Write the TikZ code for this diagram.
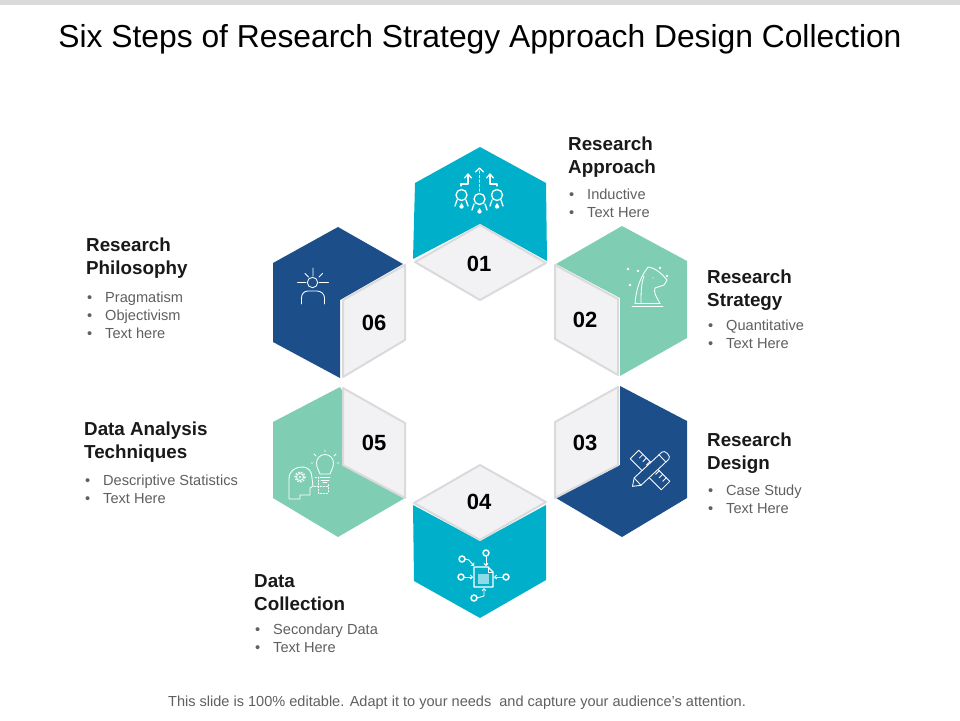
\documentclass[tikz,border=0pt]{standalone}
\usepackage{fontspec}
\setmainfont{Liberation Sans}
\usetikzlibrary{positioning,arrows.meta}
\definecolor{tealc}{HTML}{00B0CA}
\definecolor{navyc}{HTML}{1C4E8A}
\definecolor{mintc}{HTML}{7FCEB4}
\definecolor{cardc}{HTML}{F2F2F4}
\definecolor{edgec}{HTML}{DADADC}
\definecolor{greyc}{HTML}{5F5F5F}
\tikzstyle{every picture}+=[x=1pt,y=-1pt]
\tikzstyle{every picture}+=[line join=round]
\tikzstyle{card}=[fill=cardc,draw=edgec,line width=2pt]
\tikzstyle{num}=[inner sep=0pt,font=\fontsize{22}{22}\selectfont\bfseries]
\tikzstyle{head}=[inner sep=0pt,anchor=north west,align=left,font=\fontsize{18.8}{23}\selectfont\bfseries,text=black!90]
\tikzstyle{list}=[inner sep=0pt,anchor=north west,align=left,font=\fontsize{14.6}{18}\selectfont,text=greyc]
\tikzstyle{icon}=[draw=white,line width=1.3pt,line cap=round]
\tikzstyle{thin icon}=[icon,line width=.85pt]
\tikzstyle{barb}=[icon,line width=.9pt,-{Straight Barb[length=2pt,width=4pt]}]
\newcommand{\bitem}[1]{\hspace{1pt}\makebox[18pt][l]{\textbullet}#1}
\begin{document}
\begin{tikzpicture}
\useasboundingbox (0,0) rectangle (960,720);
\fill[edgec] (0,0) rectangle (960,5);
\node[inner sep=0pt,font=\fontsize{31.8}{32}\selectfont] (title) at (480,39) {Six Steps of Research Strategy Approach Design Collection};
\node[inner sep=0pt,font=\fontsize{14.55}{16}\selectfont,text=greyc] (foot) at (457,703) {This slide is 100\% editable. Adapt it to your needs\ \ and capture your audience's attention.};

% hexagons
\fill[tealc] (480,147) -- (546,183) -- (547,261) -- (480,224) -- (413,259) -- (415,183) -- cycle;
\fill[mintc] (556,264) -- (622,226) -- (687,261) -- (687,338) -- (620,376) -- (620,298) -- cycle;
\fill[navyc] (620,386) -- (687,421) -- (687,498) -- (622,537) -- (556,498) -- (620,465) -- cycle;
\fill[tealc] (413,505) -- (480,541) -- (546,505) -- (546,580) -- (480,618) -- (414,581) -- cycle;
\fill[mintc] (340,387) -- (405,498) -- (338,537) -- (273,498) -- (273,422) -- cycle;
\fill[navyc] (338,227) -- (403,264) -- (340,300) -- (340,378) -- (273,342) -- (273,263) -- cycle;

% cards
\filldraw[card] (480,225) -- (546,263) -- (480,300) -- (415,262) -- cycle;
\filldraw[card] (555,265) -- (618,299) -- (618,375) -- (555,339) -- cycle;
\filldraw[card] (618,387) -- (555,422) -- (555,498) -- (618,465) -- cycle;
\filldraw[card] (480,465) -- (546,502) -- (480,540) -- (414,503) -- cycle;
\filldraw[card] (343,388) -- (405,423) -- (405,498) -- (343,465) -- cycle;
\filldraw[card] (343,300) -- (405,265) -- (405,340) -- (343,377) -- cycle;

\node[num] (n1) at (479,264) {01};
\node[num] (n2) at (585,320) {02};
\node[num] (n3) at (585,443) {03};
\node[num] (n4) at (479,502) {04};
\node[num] (n5) at (374,443) {05};
\node[num] (n6) at (374,323) {06};

% labels
\node[head] (h1) at (568,137) {Research\\Approach};
\node[list] (l1) [below=11pt of h1.south west,anchor=north west] {\bitem{Inductive}\\\bitem{Text Here}};
\node[head] (h2) at (707,270) {Research\\Strategy};
\node[list] (l2) [below=9pt of h2.south west,anchor=north west] {\bitem{Quantitative}\\\bitem{Text Here}};
\node[head] (h3) at (707,433) {Research\\Design};
\node[list] (l3) [below=11pt of h3.south west,anchor=north west] {\bitem{Case Study}\\\bitem{Text Here}};
\node[head] (h4) at (254,574) {Data\\Collection};
\node[list] (l4) [below=13pt of h4.south west,anchor=north west] {\bitem{Secondary Data}\\\bitem{Text Here}};
\node[head] (h5) at (84,422) {Data Analysis\\Techniques};
\node[list] (l5) [below=12pt of h5.south west,anchor=north west] {\bitem{Descriptive Statistics}\\\bitem{Text Here}};
\node[head] (h6) at (86,238) {Research\\Philosophy};
\node[list] (l6) [below=13pt of h6.south west,anchor=north west] {\bitem{Pragmatism}\\\bitem{Objectivism}\\\bitem{Text here}};

% icon 01
\draw[icon] (461.5,195) circle (5.5) (479.5,199) circle (5.5) (497,195) circle (5.5);
\draw[icon,dash pattern=on 2pt off 2.5pt] (479.5,191) -- (479.5,171);
\draw[icon] (475.5,172) -- (479.5,168) -- (483.5,172);
\draw[icon] (461,186) -- (461,184) -- (468,184) -- (468,175);
\draw[icon] (464.5,178) -- (468,174) -- (471.5,178);
\draw[icon] (497,186) -- (497,184) -- (490,184) -- (490,175);
\draw[icon] (486.5,178) -- (490,174) -- (493.5,178);
\draw[icon] (457,200) -- (455,206) (466,200) -- (468,206) (474,204) -- (472,210) (485,204) -- (487,210) (492,200) -- (490,206) (501,200) -- (503,206);
\fill[white] (461.5,203) -- (459.3,206.5) arc (180:0:2.2) -- cycle;
\fill[white] (479.5,208) -- (477.3,211.5) arc (180:0:2.2) -- cycle;
\fill[white] (497,203) -- (494.8,206.5) arc (180:0:2.2) -- cycle;

% icon 02
\draw[thin icon] (632,306.5) -- (663,306.5) (635,303.5) -- (660,303.5);
\draw[thin icon] (635,303.5) .. controls (636,290) and (640,278) .. (646,270) -- (648,267) .. controls (656,268) and (662,274) .. (667,280) -- (664,285) -- (655,288) .. controls (653,292) and (657,298) .. (660,303.5);
\draw[thin icon] (644,276) .. controls (641,284) and (641,294) .. (641,303);
\foreach \p in {(628,269),(630,285),(660,268),(667,276),(638,271)}
  \fill[white] \p circle (1.3);
\fill[white] (653,278) circle (.7);

% icon 03
\begin{scope}[shift={(650,470)},rotate=-45]
\draw[thin icon] (-22,-6) rectangle (22,6);
\foreach \t in {-16,-11,-6,7,12,17} \draw[thin icon] (\t,-6) -- (\t,-1);
\end{scope}
\begin{scope}[shift={(650,470)},rotate=43]
\filldraw[thin icon,fill=navyc] (-24,0) -- (-17,-5) -- (21,-5) .. controls (25,-5) and (25,5) .. (21,5) -- (-17,5) -- cycle;
\draw[thin icon] (-17,-5) -- (-17,5) (17,-5) -- (17,5);
\end{scope}

% icon 04
\draw[icon] (474,567) -- (488,567) -- (493,572) -- (493,587) -- (474,587) -- cycle;
\draw[thin icon] (488,567) -- (488,572) -- (493,572);
\fill[white,opacity=.55] (478,574) rectangle (489,584);
\foreach \p in {(462,559),(486,553),(461,577),(506,577),(474,598)}
  \draw[icon,line width=1.5pt] \p circle (3);
\draw[barb] (465,559) -- (469,560) -- (474,566);
\draw[barb] (486,556) -- (486,566);
\draw[barb] (464,577) -- (473,577);
\draw[barb] (503,577) -- (494,577);
\draw[barb] (477,598) -- (484,596) -- (484,588);

% icon 05
\draw[thin icon] (320,474) .. controls (319,470) and (316.5,468) .. (316.5,463) arc (180:360:8.5) .. controls (333.5,468) and (331,470) .. (330,474) -- cycle;
\draw[thin icon] (320,477) -- (330,477) (321,480) -- (329,480) (323,482.5) -- (327,482.5);
\draw[thin icon] (325,450) -- (325,452) (314,454) -- (316,456) (336,454) -- (334,456) (311,463) -- (313,463) (339,463) -- (337,463);
\draw[thin icon] (289,499) -- (289,479) .. controls (289,471) and (295,467) .. (302,467) .. controls (309,467) and (312,472) .. (312,478) -- (313,486) -- (310,488) -- (310,495) -- (300,495) -- (300,499) -- cycle;
\draw[thin icon] (300,477) circle (3.5);
\draw[icon,line cap=butt,dash pattern=on 1.5pt off 1.5pt] (300,477) circle (5);
\fill[white] (300,477) circle (1.2);
\draw[thin icon,dash pattern=on 1.5pt off 1.5pt] (315,477) -- (318,477) -- (318,493) -- (328,493) -- (328,484);
\draw[thin icon,dash pattern=on 1.5pt off 1.5pt] (314,486) -- (328,486);

% icon 06
\draw[thin icon] (312.5,282.5) circle (5.2);
\draw[thin icon] (297.5,282.5) -- (306,282.5) (319,282.5) -- (328.5,282.5) (313,268) -- (313,276) (305,273.5) -- (308.5,277) (322.5,273.5) -- (319,277);
\draw[thin icon] (301.5,304) -- (301.5,298) .. controls (301.5,294) and (304,291) .. (308,291) -- (317,291) .. controls (321,291) and (324.5,294) .. (324.5,298) -- (324.5,304);
\end{tikzpicture}
\end{document}
